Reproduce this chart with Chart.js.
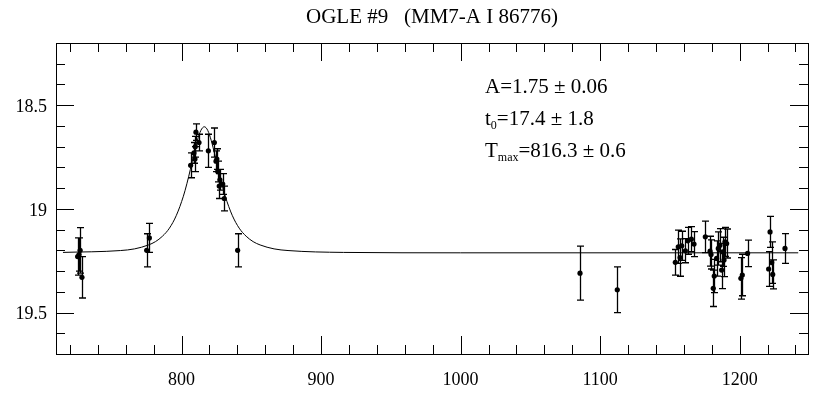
<!DOCTYPE html>
<html>
<head>
<meta charset="utf-8">
<script src="https://cdn.jsdelivr.net/npm/chart.js@4.4.0/dist/chart.umd.min.js"></script>
<style>
html, body { margin: 0; padding: 0; background: #fff; }
</style>
</head>
<body>
<canvas id="graph" width="825" height="394"></canvas>
<script>
// photometry: day, I magnitude, error
const days = [725.5, 726.5, 727.3, 728.6,
  775.0, 776.9,
  806.5, 808.9, 809.6, 809.8, 810.3, 812.5, 819.2, 823.5, 824.7, 825.3, 825.9, 827.0, 827.5, 829.5, 830.6, 840.2,
  1085.6, 1112.3,
  1153.9, 1156.0, 1157.3, 1158.5, 1161.1, 1162.8, 1165.4, 1167.3, 1175.4, 1178.8, 1179.5, 1181.1, 1181.8,
  1183.5, 1184.7, 1185.9, 1187.1, 1187.8, 1188.8, 1189.5, 1190.7, 1200.9, 1201.9, 1205.7,
  1220.8, 1221.8, 1223.0, 1223.7, 1232.5]
const mags = [19.23, 19.22, 19.20, 19.33,
  19.20, 19.14,
  18.79, 18.73, 18.76, 18.70, 18.63, 18.68, 18.72, 18.68, 18.77, 18.76, 18.82, 18.89, 18.86, 18.88, 18.95, 19.20,
  19.31, 19.39,
  19.258, 19.183, 19.235, 19.178, 19.202, 19.154, 19.146, 19.170, 19.135, 19.204, 19.22, 19.383, 19.324,
  19.239, 19.191, 19.175, 19.295, 19.207, 19.247, 19.159, 19.167, 19.335, 19.319, 19.215,
  19.290, 19.111, 19.259, 19.316, 19.191]
const errs = [0.09, 0.08, 0.11, 0.10,
  0.08, 0.07,
  0.06, 0.05, 0.06, 0.05, 0.04, 0.04, 0.08, 0.07, 0.05, 0.05, 0.05, 0.06, 0.05, 0.05, 0.06, 0.08,
  0.13, 0.11,
  0.062, 0.08, 0.09, 0.07, 0.058, 0.065, 0.06, 0.06, 0.076, 0.072, 0.07, 0.088, 0.08,
  0.085, 0.08, 0.08, 0.09, 0.07, 0.08, 0.07, 0.07, 0.10, 0.10, 0.064,
  0.084, 0.075, 0.10, 0.07, 0.072]

// fitted light curve
const fitDays = [715, 756.3, 766.3, 776.3, 781.3, 786.3, 791.3, 796.3, 801.3, 803.8, 806.3, 808.8, 811.3, 813.8, 816.3,
  818.8, 821.3, 823.8, 826.3, 828.8, 831.3, 836.3, 841.3, 846.3, 851.3, 856.3, 866.3, 876.3, 916, 1000, 1242]
const fitMags = [19.210, 19.201, 19.193, 19.174, 19.158, 19.132, 19.093, 19.031, 18.939, 18.879, 18.810, 18.738, 18.671, 18.622, 18.604,
  18.622, 18.671, 18.738, 18.810, 18.879, 18.939, 19.031, 19.093, 19.132, 19.158, 19.174, 19.193, 19.201, 19.210, 19.212, 19.212]

const xTicks = [800, 900, 1000, 1100, 1200]
const yTicks = [18.5, 19, 19.5]

const titleText = 'OGLE #9   (MM7-A I 86776)'
const fitNames = ['A', 't', 'T']
const fitSubs = ['', '0', 'max']
const fitVals = ['=1.75 \u00b1 0.06', '=17.4 \u00b1 1.8', '=816.3 \u00b1 0.6']

const serif = "'Liberation Serif', 'DejaVu Serif', serif"

const points = days.map((d, i) => ({ x: d, y: mags[i] }))
const fit = fitDays.map((d, i) => ({ x: d, y: fitMags[i] }))

// error bars + frame with inward ticks on all sides + fit parameters
const extras = {
  id: 'extras',
  beforeDatasetsDraw(chart) {
    const ctx = chart.ctx
    const xs = chart.scales.x, ys = chart.scales.y
    ctx.save()
    ctx.strokeStyle = '#000'
    ctx.lineWidth = 1.3
    ctx.beginPath()
    for (let i = 0; i < days.length; i++) {
      const px = Math.round(xs.getPixelForValue(days[i])) + 0.5
      const y1 = ys.getPixelForValue(mags[i] - errs[i])
      const y2 = ys.getPixelForValue(mags[i] + errs[i])
      ctx.moveTo(px, y1); ctx.lineTo(px, y2)
      ctx.moveTo(px - 3.5, y1); ctx.lineTo(px + 3.5, y1)
      ctx.moveTo(px - 3.5, y2); ctx.lineTo(px + 3.5, y2)
    }
    ctx.stroke()
    ctx.restore()
  },
  afterDraw(chart) {
    const ctx = chart.ctx, a = chart.chartArea
    const xs = chart.scales.x, ys = chart.scales.y
    ctx.save()
    ctx.strokeStyle = '#000'
    ctx.lineWidth = 1
    ctx.strokeRect(Math.round(a.left) + 0.5, Math.round(a.top) + 0.5,
      Math.round(a.right - a.left), Math.round(a.bottom - a.top))
    ctx.beginPath()
    for (let v = 720; v <= 1240; v += 20) {
      const px = Math.round(xs.getPixelForValue(v)) + 0.5
      const len = v % 100 == 0 ? 18 : 9
      ctx.moveTo(px, a.bottom); ctx.lineTo(px, a.bottom - len)
      ctx.moveTo(px, a.top); ctx.lineTo(px, a.top + len)
    }
    for (let k = 183; k <= 196; k++) {
      const py = Math.round(ys.getPixelForValue(k / 10)) + 0.5
      const len = k % 5 == 0 ? 18 : 9
      ctx.moveTo(a.left, py); ctx.lineTo(a.left + len, py)
      ctx.moveTo(a.right, py); ctx.lineTo(a.right - len, py)
    }
    ctx.stroke()

    // fit parameters
    ctx.fillStyle = '#000'
    ctx.textBaseline = 'alphabetic'
    let ty = 93
    for (let i = 0; i < fitNames.length; i++) {
      let tx = 485
      ctx.font = '21px ' + serif
      ctx.fillText(fitNames[i], tx, ty)
      tx += ctx.measureText(fitNames[i]).width
      if (fitSubs[i]) {
        ctx.font = '12px ' + serif
        ctx.fillText(fitSubs[i], tx, ty + 4)
        tx += ctx.measureText(fitSubs[i]).width
      }
      ctx.font = '21px ' + serif
      ctx.fillText(fitVals[i], tx, ty)
      ty += 32
    }
    ctx.restore()
  }
}

const ctx = document.getElementById('graph').getContext('2d')
const chart = new Chart(ctx, {
  type: 'scatter',
  data: {
    datasets: [{
      type: 'line',
      data: fit,
      borderColor: '#000',
      borderWidth: 1,
      pointRadius: 0,
      cubicInterpolationMode: 'monotone',
      fill: false
    }, {
      data: points,
      backgroundColor: '#000',
      borderColor: '#000',
      pointRadius: 2.6,
      borderWidth: 0
    }]
  },
  options: {
    responsive: false,
    animation: false,
    layout: { padding: { left: 0, right: 17, top: 0, bottom: 0 } },
    plugins: {
      legend: { display: false },
      tooltip: { enabled: false },
      title: {
        display: true,
        fullSize: false,
        text: titleText,
        color: '#000',
        font: { family: serif, size: 21, weight: 'normal', lineHeight: 1.2 },
        padding: { top: 5, bottom: 12.8 }
      }
    },
    scales: {
      x: {
        type: 'linear',
        min: 710,
        max: 1249,
        grid: { display: false, drawTicks: false },
        border: { display: false },
        afterBuildTicks: s => { s.ticks = xTicks.map(v => ({ value: v })) },
        afterFit: s => { s.height = 40 },
        ticks: {
          color: '#000',
          padding: 15,
          maxRotation: 0,
          font: { family: serif, size: 18 },
          callback: v => String(v)
        }
      },
      y: {
        type: 'linear',
        reverse: true,
        min: 18.2,
        max: 19.7,
        grid: { display: false, drawTicks: false },
        border: { display: false },
        afterBuildTicks: s => { s.ticks = yTicks.map(v => ({ value: v })) },
        afterFit: s => { s.width = 56 },
        ticks: {
          color: '#000',
          padding: 9,
          labelOffset: 2,
          font: { family: serif, size: 18 },
          callback: v => String(v)
        }
      }
    }
  },
  plugins: [extras]
})
</script>
</body>
</html>
